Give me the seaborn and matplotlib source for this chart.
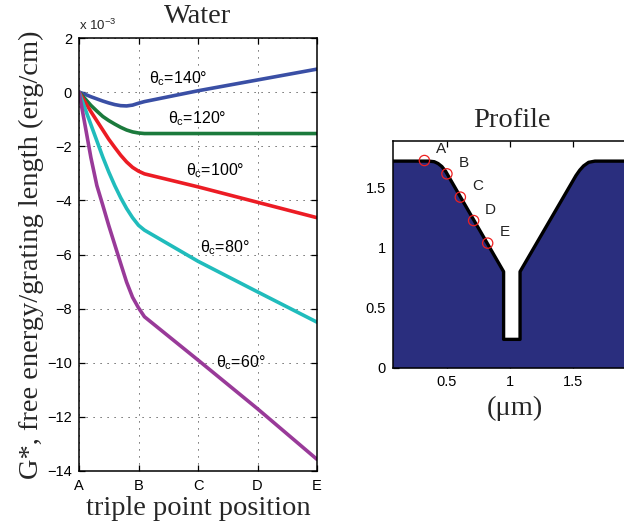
import numpy as np
import pandas as pd
import matplotlib
matplotlib.use("Agg")
import matplotlib.pyplot as plt
import seaborn as sns

# Free energy per grating length, in units of 1e-3 erg/cm, vs triple point position
position = [0, 0.1, 0.2, 0.3, 0.4, 0.5, 0.6, 0.7, 0.8, 0.9, 1.0, 1.1, 2, 3, 4]
g_140 = [0, -0.08, -0.17, -0.25, -0.33, -0.40, -0.46, -0.50, -0.51, -0.48,
         -0.41, -0.35, 0.05, 0.45, 0.85]
g_120 = [0, -0.24, -0.49, -0.70, -0.90, -1.05, -1.18, -1.30, -1.40, -1.47,
         -1.51, -1.53, -1.53, -1.53, -1.53]
g_100 = [0, -0.36, -0.72, -1.06, -1.40, -1.74, -2.04, -2.33, -2.58, -2.78,
         -2.92, -3.02, -3.50, -4.07, -4.64]
g_80 = [0, -0.60, -1.20, -1.80, -2.40, -2.95, -3.45, -3.90, -4.30, -4.64,
        -4.92, -5.10, -6.25, -7.38, -8.50]
g_60 = [0, -1.20, -2.42, -3.45, -4.18, -4.93, -5.63, -6.33, -7.02, -7.58,
        -7.97, -8.30, -9.90, -11.70, -13.57]
angles = [140, 120, 100, 80, 60]
position_names = ["A", "B", "C", "D", "E"]
energy_ticks = [2, 0, -2, -4, -6, -8, -10, -12, -14]

# Grating profile (um) and the sampled triple point positions on its wall
profile_x = [0.07, 0.36, 0.40, 0.43, 0.46, 0.49, 0.948, 0.948, 1.078, 1.078,
             1.52, 1.55, 1.58, 1.62, 1.67, 2.0]
profile_y = [1.72, 1.72, 1.715, 1.70, 1.675, 1.635, 0.80, 0.236, 0.236, 0.80,
             1.60, 1.645, 1.68, 1.71, 1.72, 1.72]
point_x = [0.322, 0.50, 0.606, 0.711, 0.822]
point_y = [1.725, 1.614, 1.42, 1.225, 1.037]
profile_xticks = [0.5, 1, 1.5]
profile_yticks = [0, 0.5, 1, 1.5]

sns.set_theme(style="ticks")
plt.rcParams["font.family"] = ["Liberation Sans", "DejaVu Sans"]
plt.rcParams["mathtext.fontset"] = "custom"
plt.rcParams["mathtext.rm"] = "Liberation Sans"
plt.rcParams["mathtext.it"] = "Liberation Sans"
serif = ["Liberation Serif", "DejaVu Serif"]
big = 20.5

series = {140: g_140, 120: g_120, 100: g_100, 80: g_80, 60: g_60}
energy = pd.DataFrame(
    [(p, v, a) for a in angles for p, v in zip(position, series[a])],
    columns=["position", "G", "angle"],
)
palette = {140: "#3a4fa5", 120: "#1b7a3c", 100: "#ec1c24", 80: "#20bcbc", 60: "#993a99"}

fig = plt.figure(figsize=(6.24, 5.29), dpi=100)

# ---- left: free energy curves ----
ax = fig.add_axes([79 / 624, 1 - 471 / 529, 238 / 624, 433 / 529])
sns.lineplot(data=energy, x="position", y="G", hue="angle", palette=palette,
             hue_order=angles, sort=False, estimator=None, linewidth=2.6,
             legend=False, ax=ax)
ax.set_xlim(0, 4)
ax.set_ylim(-14, 2)
ax.set_xticks(range(len(position_names)))
ax.set_xticklabels(position_names)
ax.set_yticks(energy_ticks)
ax.set_yticklabels([f"{t}".replace("-", "\u2212") for t in energy_ticks])
ax.grid(True, color="#444444", linestyle=(0, (1.2, 6)), linewidth=0.7)
ax.tick_params(direction="in", top=True, right=True, length=4, width=0.9,
               labelsize=10.5, colors="black")
ax.tick_params(axis="x", pad=6)
ax.tick_params(axis="y", pad=5)
for s in ax.spines.values():
    s.set_linewidth(1.1)
    s.set_color("black")
ax.set_xlabel("triple point position", fontfamily=serif, fontsize=big, labelpad=2)
ax.set_ylabel("G*, free energy/grating length (erg/cm)", fontfamily=serif,
              fontsize=big, labelpad=2)
ax.set_title("Water", fontfamily=serif, fontsize=big, pad=11)
ax.text(0.0, 1.012, r"x 10$^{-3}$", transform=ax.transAxes, ha="left",
        va="bottom", fontsize=9.5)

label_pos = {140: (1.18, 0.48), 120: (1.49, -0.98), 100: (1.79, -2.91),
             80: (2.03, -5.75), 60: (2.30, -10.0)}
for a in angles:
    lx, ly = label_pos[a]
    ax.text(lx, ly, r"$\theta_c$" + f"={a}°", fontsize=11.5, ha="left",
            va="center", color="black")

# ---- right: grating profile ----
bx = fig.add_axes([392.7 / 624, 1 - 367.7 / 529, 244 / 624, 227 / 529])
bx.fill_between(profile_x, 0, profile_y, color="#2a2e7e", linewidth=0)
sns.lineplot(x=profile_x, y=profile_y, sort=False, estimator=None,
             color="black", linewidth=2.4, ax=bx)
sns.scatterplot(x=point_x, y=point_y, marker="o", s=55, facecolors="none",
                edgecolor="#ee2020", linewidth=0.9, ax=bx, zorder=5)
for name, px, py in zip(position_names, point_x, point_y):
    bx.text(px + 0.135, py + 0.092, name, fontsize=11, ha="center",
            va="center", color="#222222")
bx.set_xlim(0.0714, 2.0)
bx.set_ylim(0, 1.89)
bx.set_xticks(profile_xticks)
bx.set_xticklabels(["0.5", "1", "1.5"])
bx.set_yticks(profile_yticks)
bx.set_yticklabels(["0", "0.5", "1", "1.5"])
bx.tick_params(direction="in", top=True, right=False, length=4, width=0.9,
               labelsize=10.5, colors="black", pad=5)
for s in bx.spines.values():
    s.set_linewidth(1.1)
    s.set_color("black")
bx.spines["right"].set_visible(False)
bx.set_xlabel("(\u03bcm)", fontfamily=serif, fontsize=big, labelpad=5)
bx.set_ylabel("")
bx.set_title("Profile", fontfamily=serif, fontsize=big, x=(511.7 - 392.7) / 244, pad=10)

fig.savefig("out.png", dpi=100)
